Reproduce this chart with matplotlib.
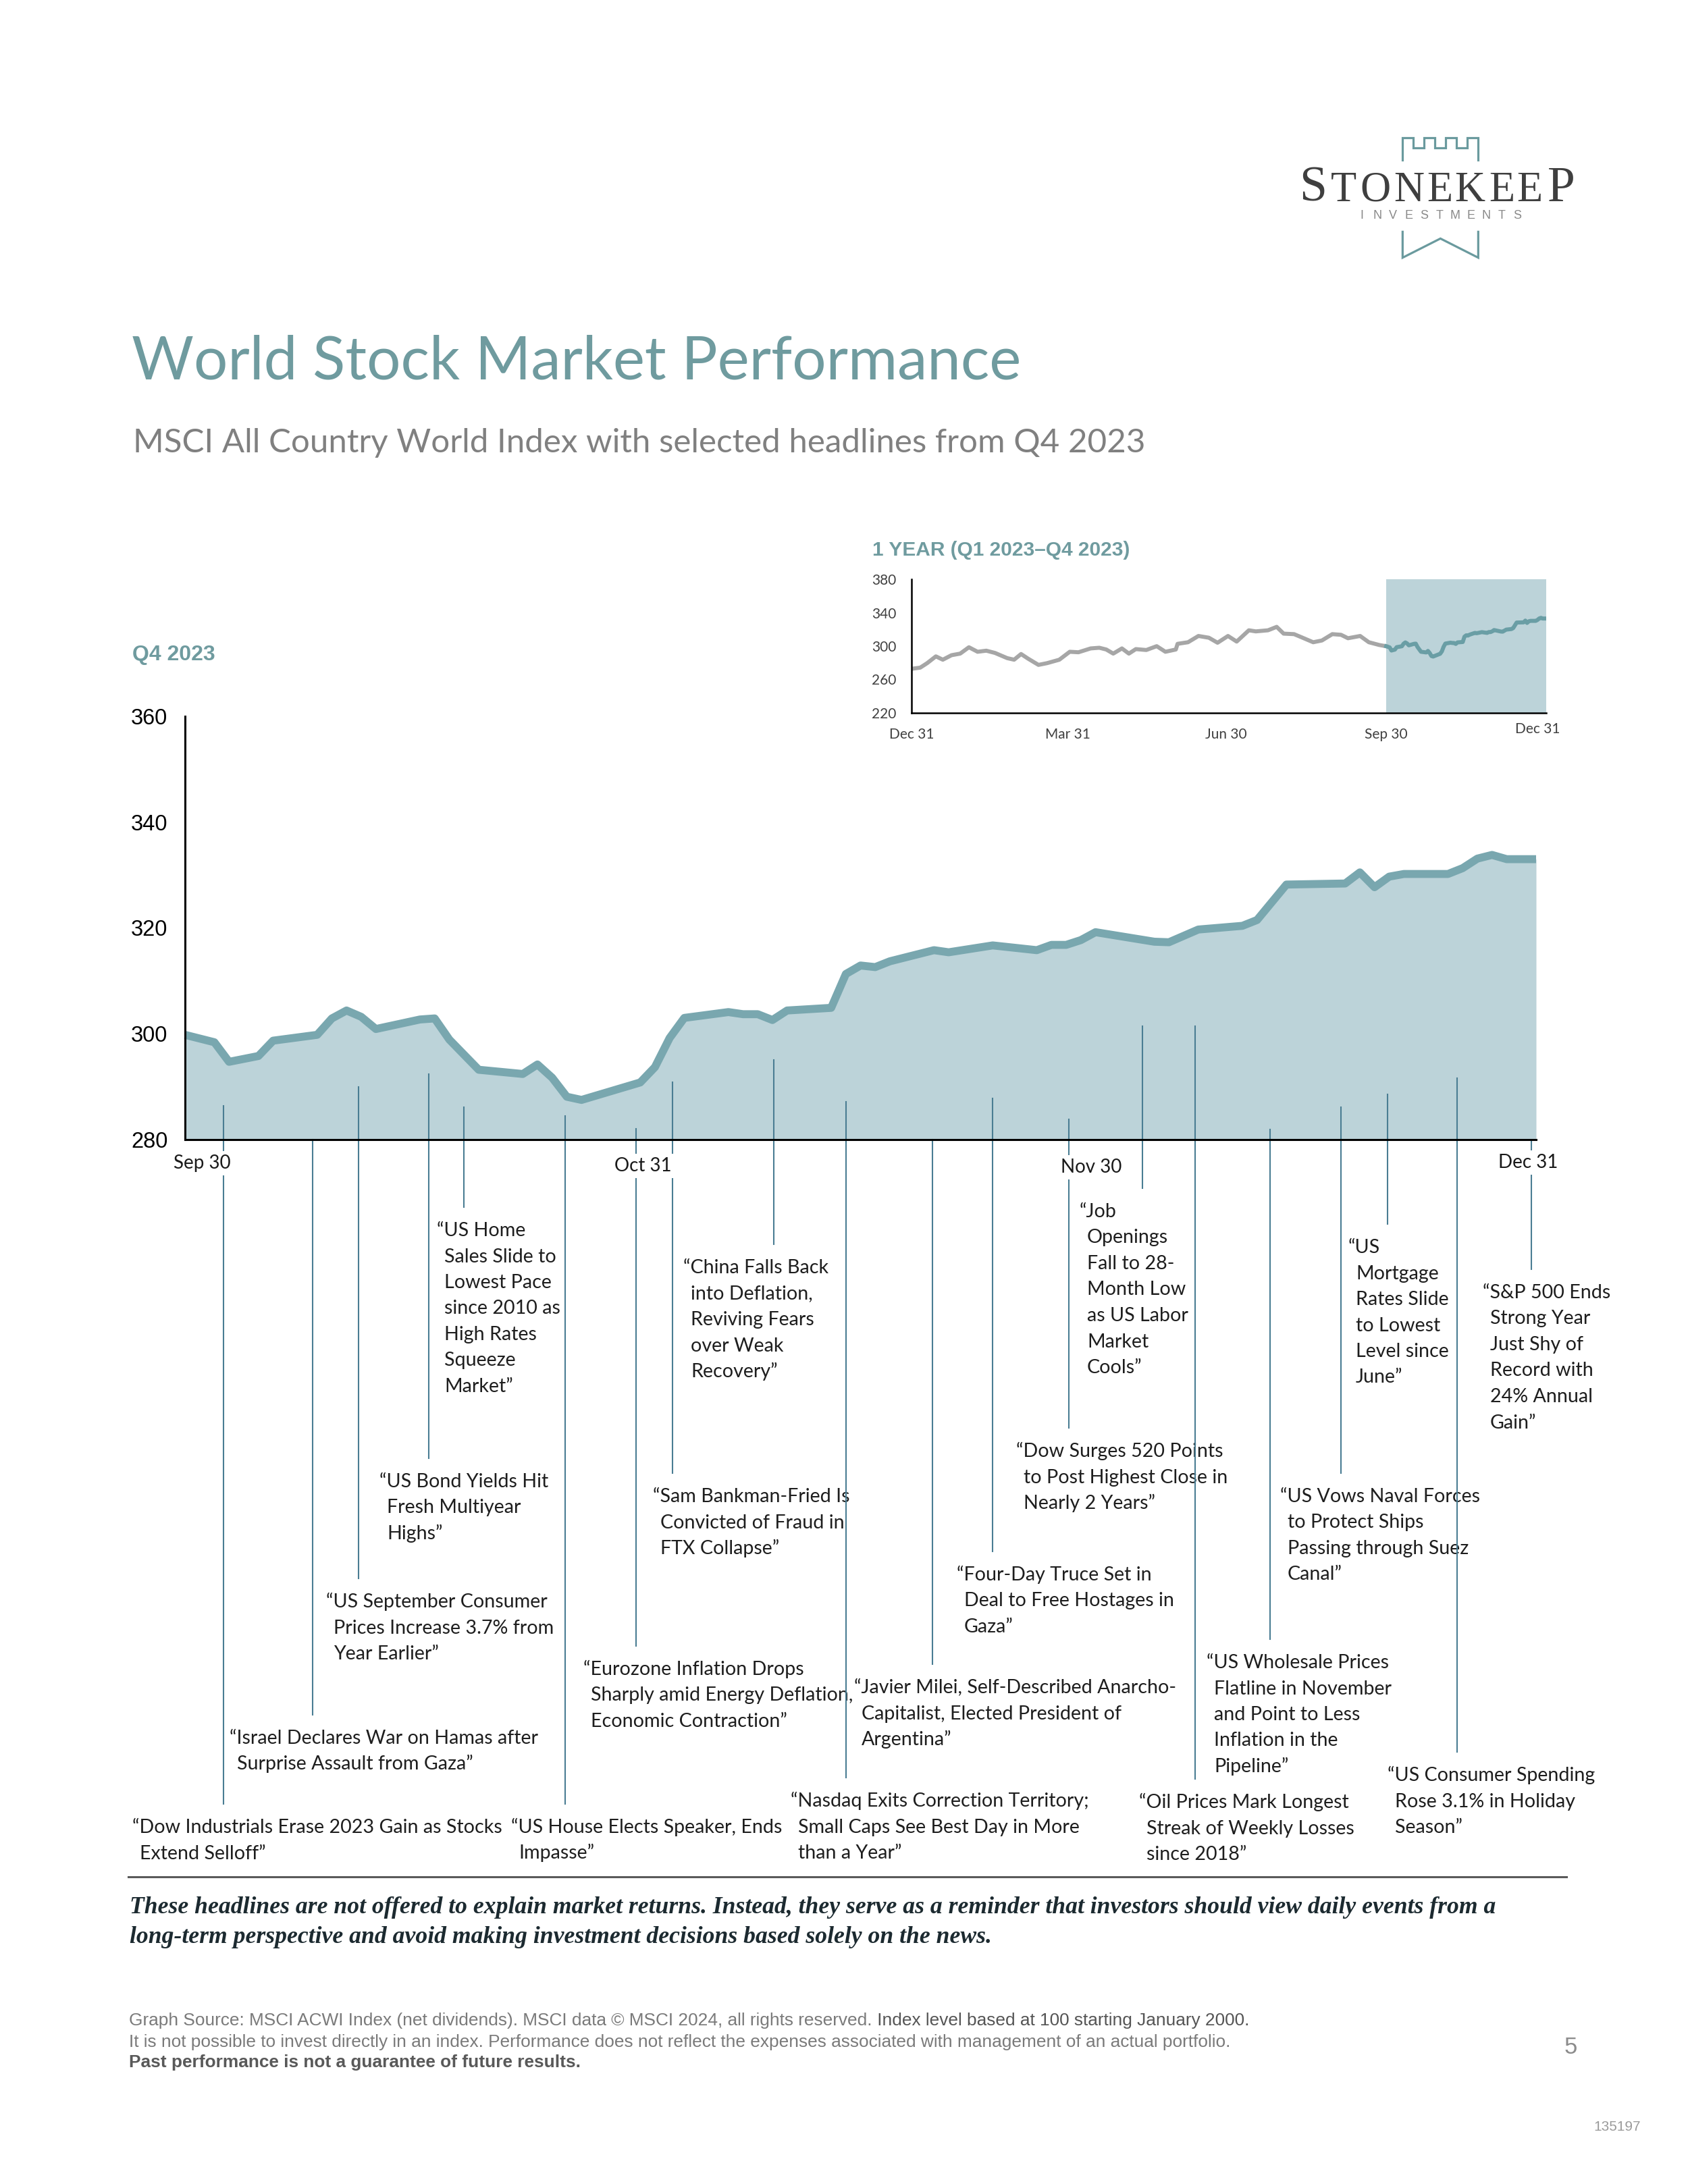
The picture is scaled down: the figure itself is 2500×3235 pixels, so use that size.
import matplotlib
matplotlib.use('Agg')
import matplotlib.pyplot as plt
import matplotlib.transforms as mtransforms
from matplotlib.lines import Line2D
from matplotlib.font_manager import FontProperties, findfont
import numpy as np

# ---------------- data ----------------
# Q4 2023 MSCI ACWI (days after Sep 30 2023, index level)
q4_days = [0, 2, 3, 5, 6, 9, 10, 11, 12, 13, 16, 17, 18, 20, 23, 24, 25, 26, 27,
           31, 32, 33, 34, 37, 38, 39, 40, 41, 44, 45, 46, 47, 48, 51, 52, 55,
           58, 59, 60, 61, 62, 66, 67, 69, 72, 73, 75, 79, 80, 81, 82, 83,
           86, 87, 88, 89, 90, 92]
q4_vals = [299.8, 298.4, 294.7, 295.8, 298.7, 299.8, 302.9, 304.4, 303.2, 300.9,
           302.7, 302.9, 298.9, 293.2, 292.4, 294.2, 291.7, 288.1, 287.5,
           290.8, 293.7, 299.2, 303.0, 304.1, 303.7, 303.7, 302.6, 304.4,
           304.9, 311.3, 312.9, 312.6, 313.7, 315.8, 315.4, 316.7,
           315.8, 316.8, 316.8, 317.7, 319.2, 317.4, 317.3, 319.7, 320.4, 321.5,
           328.2, 328.4, 330.5, 327.7, 329.7, 330.2, 330.2, 331.3, 333.1,
           333.8, 333.0, 333.0]

# 1-year inset, Q1-Q3 2023 (days after Dec 31 2022, index level)
year_days = [0, 5, 9, 14, 18, 23, 28, 33, 38, 43, 48, 55, 59, 63, 67, 73, 78,
             85, 91, 96, 103, 108, 112, 116, 121, 125, 129, 135, 141, 146, 152,
             153, 159, 165, 171, 176, 182, 187, 194, 198, 205, 210, 214, 220,
             224, 231, 236, 242, 247, 251, 258, 263, 269, 273]
year_vals = [272.8, 274.2, 279.6, 287.7, 283.7, 289.1, 291.0, 298.6, 293.2,
             294.5, 291.8, 285.6, 283.7, 290.5, 285.0, 277.5, 279.6, 283.7,
             293.2, 292.6, 297.2, 298.0, 295.9, 291.0, 297.2, 291.0, 296.4,
             295.3, 299.9, 293.2, 295.9, 302.7, 304.6, 312.1, 310.0, 304.0,
             312.1, 305.4, 318.9, 317.6, 318.9, 323.0, 314.9, 314.3, 310.8,
             304.6, 306.7, 314.3, 313.5, 309.4, 312.1, 304.6, 301.3, 299.8]

main_yticks = [280, 300, 320, 340, 360]
inset_yticks = [220, 260, 300, 340, 380]
date_labels = ["Sep 30", "Oct 31", "Nov 30", "Dec 31"]
inset_xlabels = ["Dec 31", "Mar 31", "Jun 30", "Sep 30", "Dec 31"]
inset_xlabel_days = [0, 90, 181, 273, 360]

headline_days = [2.6, 8.7, 11.8, 16.6, 19.0, 25.9, 30.7, 33.2, 40.1, 45.0,
                 50.9, 55.0, 60.2, 65.2, 68.8, 73.9, 78.7, 81.9, 86.6, 91.7]
headlines = [
    "“Dow Industrials Erase 2023 Gain as Stocks\nExtend Selloff”",
    "“Israel Declares War on Hamas after\nSurprise Assault from Gaza”",
    "“US September Consumer\nPrices Increase 3.7% from\nYear Earlier”",
    "“US Bond Yields Hit\nFresh Multiyear\nHighs”",
    "“US Home\nSales Slide to\nLowest Pace\nsince 2010 as\nHigh Rates\nSqueeze\nMarket”",
    "“US House Elects Speaker, Ends\nImpasse”",
    "“Eurozone Inflation Drops\nSharply amid Energy Deflation,\nEconomic Contraction”",
    "“Sam Bankman-Fried Is\nConvicted of Fraud in\nFTX Collapse”",
    "“China Falls Back\ninto Deflation,\nReviving Fears\nover Weak\nRecovery”",
    "“Nasdaq Exits Correction Territory;\nSmall Caps See Best Day in More\nthan a Year”",
    "“Javier Milei, Self-Described Anarcho-\nCapitalist, Elected President of\nArgentina”",
    "“Four-Day Truce Set in\nDeal to Free Hostages in\nGaza”",
    "“Dow Surges 520 Points\nto Post Highest Close in\nNearly 2 Years”",
    "“Job\nOpenings\nFall to 28-\nMonth Low\nas US Labor\nMarket\nCools”",
    "“Oil Prices Mark Longest\nStreak of Weekly Losses\nsince 2018”",
    "“US Wholesale Prices\nFlatline in November\nand Point to Less\nInflation in the\nPipeline”",
    "“US Vows Naval Forces\nto Protect Ships\nPassing through Suez\nCanal”",
    "“US\nMortgage\nRates Slide\nto Lowest\nLevel since\nJune”",
    "“US Consumer Spending\nRose 3.1% in Holiday\nSeason”",
    "“S&P 500 Ends\nStrong Year\nJust Shy of\nRecord with\n24% Annual\nGain”",
]

# ---------------- layout (page pixels) ----------------
headline_pos = [(196, 2707), (340, 2575), (483, 2373), (562, 2195), (647, 1823),
                (757, 2707), (864, 2473), (967, 2217), (1012, 1878), (1171, 2668),
                (1265, 2500), (1417, 2333), (1505, 2150), (1599, 1795), (1687, 2670),
                (1787, 2463), (1896, 2217), (1997, 1848), (2055, 2630), (2196, 1915)]
leader_tops = [1638, 1688, 1610, 1591, 1640, 1653, 1672, 1603, 1570, 1632,
               1688, 1627, 1658, 1520, 1520, 1673, 1640, 1621, 1597, 1690]
date_label_pos = [(1.15, 1723), (31.2, 1727), (61.7, 1729), (91.45, 1722)]

W, H = 2500, 3235
TEAL_T = '#6f9b9f'
FILL = '#bcd3d9'
LINE = '#79a7af'
LEADER = '#4a7d93'
HCOL = '#1e1e1e'


def font_ok(name):
    try:
        findfont(FontProperties(family=name), fallback_to_default=False)
        return True
    except Exception:
        return False


HAS_NARROW = font_ok('Liberation Sans Narrow')
NARROW = 'Liberation Sans Narrow' if HAS_NARROW else 'Liberation Sans'
NSCALE = 1.0 if HAS_NARROW else 0.83
SANS = 'Liberation Sans'
CAL = 'Lato'

fig = plt.figure(figsize=(25, 32.35), dpi=100)
fig.patch.set_facecolor('white')

ov = fig.add_axes([0, 0, 1, 1])
ov.set_xlim(0, W)
ov.set_ylim(H, 0)
ov.axis('off')

# ---------------- logo ----------------
LOGO = '#6a9a9e'
lx = lambda zx: 1880 + zx / 3.0
ly = lambda zy: 180 + zy / 3.0
cx = [592, 592, 640, 640, 688, 688, 736, 736, 784, 784, 832, 832, 880, 880, 928, 928]
cy = [170, 72, 72, 118, 118, 72, 72, 118, 118, 72, 72, 118, 118, 72, 72, 170]
ov.plot([lx(v) for v in cx], [ly(v) for v in cy], color=LOGO, lw=2.3,
        solid_joinstyle='miter')
ov.plot([lx(592), lx(592), lx(760), lx(928), lx(928)],
        [ly(490), ly(605), ly(520), ly(605), ly(490)], color=LOGO, lw=2.3,
        solid_joinstyle='miter')
for ch, x in zip("STONEKEEP", [1945, 1990, 2037, 2087, 2132, 2177, 2224, 2265, 2312]):
    big = ch in "SP" and x in (1945, 2312)
    ov.text(x, 298, ch, ha='center', va='baseline', family='Liberation Serif',
            fontsize=53 if big else 45, color='#3f3f3f')
for i, ch in enumerate("INVESTMENTS"):
    ov.text(2017 + i * 23, 324, ch, ha='center', va='baseline', family=SANS,
            fontsize=13, color='#8a8a8a')

# ---------------- titles ----------------
ov.text(195, 562, "World Stock Market Performance", family=CAL, weight='normal',
        fontsize=64, color=TEAL_T, va='baseline')
ov.text(197, 670, "MSCI All Country World Index with selected headlines from Q4 2023",
        family=CAL, fontsize=35.5, color='#808080', va='baseline')
ov.text(1292, 823, "1 YEAR (Q1 2023–Q4 2023)", family=SANS, weight='bold',
        fontsize=21.5, color=TEAL_T, va='baseline')
ov.text(196, 978, "Q4 2023", family=SANS, weight='bold', fontsize=23,
        color=TEAL_T, va='baseline')

# ---------------- main chart ----------------
AX_L, AX_R, AX_T, AX_B = 274, 2275, 1061, 1688
ax = fig.add_axes([AX_L / W, 1 - AX_B / H, (AX_R - AX_L) / W, (AX_B - AX_T) / H])
ax.patch.set_alpha(0)
ax.fill_between(q4_days, q4_vals, 280, color=FILL, lw=0, zorder=1)
ax.plot(q4_days, q4_vals, color=LINE, lw=8.5, solid_joinstyle='round',
        solid_capstyle='butt', zorder=4, clip_on=False)
for s in ['top', 'right']:
    ax.spines[s].set_visible(False)
for s in ['left', 'bottom']:
    ax.spines[s].set_linewidth(2.2)
    ax.spines[s].set_color('black')
    ax.spines[s].set_zorder(5)
ax.set_xticks([])
ax.set_yticks(main_yticks)
ax.set_yticklabels([str(v) for v in main_yticks], fontfamily=SANS, fontsize=23.5)
ax.tick_params(axis='y', length=0, pad=18.5)

blend = mtransforms.blended_transform_factory(ax.transData, ov.transData)
for d, top, (tx, ty) in zip(headline_days, leader_tops, headline_pos):
    ax.add_artist(Line2D([d, d], [top, ty - 35], transform=blend, color=LEADER,
                         lw=1.5, clip_on=False, zorder=2))
for lbl, (d, y) in zip(date_labels, date_label_pos):
    ax.text(d, y, lbl, transform=blend, ha='center', va='center', family=CAL,
            fontsize=20, color='#1a1a1a', zorder=3, clip_on=False,
            bbox=dict(boxstyle='square,pad=0.18', fc='white', ec='none'))
ax.set_xlim(0, 92)
ax.set_ylim(280, 360)

LH = 38.5
for text, (tx, ty) in zip(headlines, headline_pos):
    for i, ln in enumerate(text.split('\n')):
        ov.text(tx + (0 if i == 0 else 11), ty + 8 + i * LH, ln, family=CAL,
                fontsize=20.6, color=HCOL, va='baseline', ha='left')

# ---------------- inset ----------------
IN_L, IN_R, IN_T, IN_B = 1350, 2290, 858, 1056
ax2 = fig.add_axes([IN_L / W, 1 - IN_B / H, (IN_R - IN_L) / W, (IN_B - IN_T) / H])
ax2.patch.set_alpha(0)
ax2.axvspan(273, 365, color=FILL, lw=0, zorder=0)
ax2.plot(year_days, year_vals, color='#a6a6a6', lw=4.3, solid_joinstyle='round')
ax2.plot(np.array(q4_days) + 273, q4_vals, color='#6a9ea5', lw=4.3,
         solid_joinstyle='round')
for s in ['top', 'right']:
    ax2.spines[s].set_visible(False)
for s in ['left', 'bottom']:
    ax2.spines[s].set_linewidth(1.8)
ax2.set_xlim(0, 365)
ax2.set_ylim(220, 380)
ax2.set_xticks([])
ax2.set_yticks(inset_yticks)
ax2.set_yticklabels([str(v) for v in inset_yticks], fontfamily=CAL, fontsize=15,
                    color='#404040')
ax2.tick_params(axis='y', length=0, pad=16)
blend2 = mtransforms.blended_transform_factory(ax2.transData, ov.transData)
for lbl, d, y in zip(inset_xlabels, inset_xlabel_days, [1088, 1088, 1088, 1088, 1080]):
    ax2.text(d, y, lbl, transform=blend2, ha='center', va='center', family=CAL,
             fontsize=15, color='#404040', clip_on=False)
ov.text(2175, 895, "Last 3\nmonths", ha='center', va='center', family=SANS,
        weight='bold', fontsize=18, color='#1f2c31', linespacing=1.3)

# ---------------- disclaimer & footer ----------------
ov.plot([190, 2320], [2780, 2780], color='#5a5a5a', lw=2.2)
ov.text(192, 2834, "These headlines are not offered to explain market returns. Instead, "
        "they serve as a reminder that investors should view daily events from a",
        family='Liberation Serif', style='italic', weight='bold', fontsize=25.7,
        color='#1c2a30', va='baseline')
ov.text(192, 2878, "long-term perspective and avoid making investment decisions "
        "based solely on the news.", family='Liberation Serif', style='italic',
        weight='bold', fontsize=25.7, color='#1c2a30', va='baseline')

FFS = 22.8 * NSCALE
t1 = ov.text(191, 3000, "Graph Source: MSCI ACWI Index (net dividends). MSCI data © MSCI "
             "2024, all rights reserved.", family=NARROW, fontsize=FFS,
             color='#7a7a7a', va='baseline')
ov.annotate(" Index level based at 100 starting January 2000.", xy=(1, 0),
            xycoords=t1, va='bottom', ha='left', family=NARROW, fontsize=FFS,
            color='#555555')
ov.text(191, 3032, "It is not possible to invest directly in an index. Performance does "
        "not reflect the expenses associated with management of an actual portfolio.",
        family=NARROW, fontsize=FFS, color='#7a7a7a', va='baseline')
ov.text(191, 3062, "Past performance is not a guarantee of future results.",
        family=NARROW, weight='bold', fontsize=FFS, color='#595959', va='baseline')
ov.text(2326, 3032, "5", ha='center', va='center', family=NARROW,
        fontsize=30 * NSCALE, color='#8c8c8c')
ov.text(2395, 3150, "135197", ha='center', va='center', family=NARROW,
        fontsize=18 * NSCALE, color='#9a9a9a')

fig.savefig('out.png', dpi=100, facecolor='white')
